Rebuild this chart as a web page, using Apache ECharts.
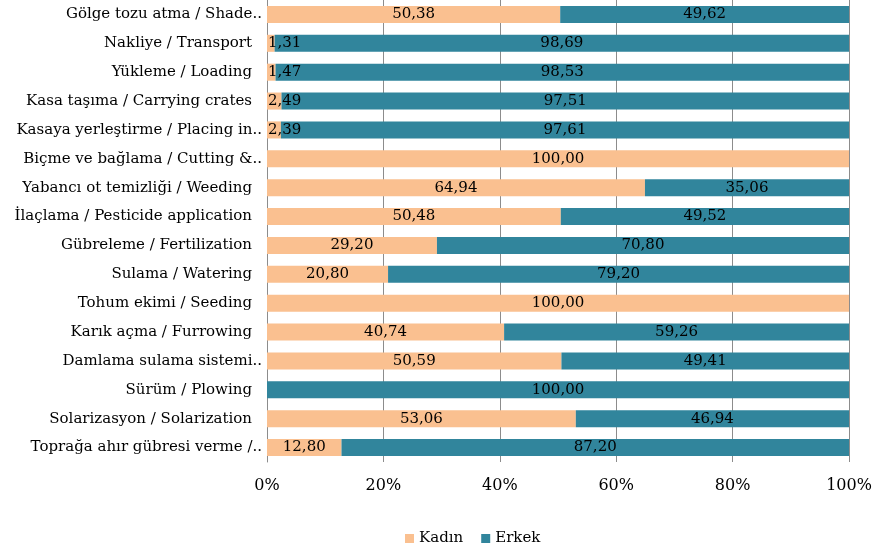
<!DOCTYPE html>
<html>
<head>
<meta charset="utf-8">
<script src="https://cdn.jsdelivr.net/npm/echarts@6/dist/echarts.min.js"></script>
<style>html,body{margin:0;padding:0;background:#fff;}#c{width:872px;height:547px;}</style>
</head>
<body>
<div id="c"></div>
<script>
var categories = [
  'Gölge tozu atma / Shade..',
  'Nakliye / Transport',
  'Yükleme / Loading',
  'Kasa taşıma / Carrying crates',
  'Kasaya yerleştirme / Placing in..',
  'Biçme ve bağlama / Cutting &..',
  'Yabancı ot temizliği / Weeding',
  'İlaçlama / Pesticide application',
  'Gübreleme / Fertilization',
  'Sulama / Watering',
  'Tohum ekimi / Seeding',
  'Karık açma / Furrowing',
  'Damlama sulama sistemi..',
  'Sürüm / Plowing',
  'Solarizasyon / Solarization',
  'Toprağa ahır gübresi verme /..'
];
var kadin = [50.38, 1.31, 1.47, 2.49, 2.39, 100, 64.94, 50.48, 29.20, 20.80, 100, 40.74, 50.59, 0, 53.06, 12.80];
var erkek = [49.62, 98.69, 98.53, 97.51, 97.61, 0, 35.06, 49.52, 70.80, 79.20, 0, 59.26, 49.41, 100, 46.94, 87.20];
var xTicks = [0, 20, 40, 60, 80, 100];

var FONT = 'DejaVu Serif';
var FS = 15;
function fmt(p) { return p.value === 0 ? '' : p.value.toFixed(2).replace('.', ','); }
var lbl = { show: true, position: 'inside', color: '#000', fontFamily: FONT, fontSize: FS, formatter: fmt };

var kadinData = kadin.map(function (v) {
  if (v > 0 && v < 5) {
    return { value: v, label: { position: 'insideLeft', distance: 1 } };
  }
  return v;
});

var chart = echarts.init(document.getElementById('c'));
chart.setOption({
  animation: false,
  grid: { left: 267, right: 23, top: 0, bottom: 85, containLabel: false, outerBoundsMode: 'none' },
  legend: {
    data: ['Kadın', 'Erkek'],
    bottom: -4, left: 400,
    itemWidth: 9, itemHeight: 9, itemGap: 18,
    textStyle: { fontFamily: FONT, fontSize: FS, color: '#000' },
    icon: 'rect'
  },
  xAxis: {
    type: 'value', min: 0, max: 100, interval: 20,
    axisLine: { show: false }, axisTick: { show: false },
    splitLine: { show: true, lineStyle: { color: '#8c8c8c', width: 1 } },
    axisLabel: {
      margin: 16, color: '#000', fontFamily: FONT, fontSize: 16,
      formatter: function (v) { return xTicks.indexOf(v) >= 0 ? v + '%' : ''; }
    }
  },
  yAxis: {
    type: 'category', data: categories, inverse: true,
    axisLine: { show: true, lineStyle: { color: '#8c8c8c' } },
    axisTick: { show: false },
    axisLabel: {
      margin: 5, color: '#000', fontFamily: FONT, fontSize: FS,
      formatter: function (v) { return /\.\.$/.test(v) ? '{t|' + v + '}' : '{p|' + v + '}'; },
      rich: {
        t: { fontFamily: FONT, fontSize: FS, color: '#000' },
        p: { fontFamily: FONT, fontSize: FS, color: '#000', padding: [0, 10, 0, 0] }
      }
    }
  },
  series: [
    { name: 'Kadın', type: 'bar', stack: 'a', data: kadinData, barWidth: '59%', itemStyle: { color: '#FAC090' }, label: lbl },
    { name: 'Erkek', type: 'bar', stack: 'a', data: erkek, barWidth: '59%', itemStyle: { color: '#31859C' }, label: lbl }
  ]
});
</script>
</body>
</html>
